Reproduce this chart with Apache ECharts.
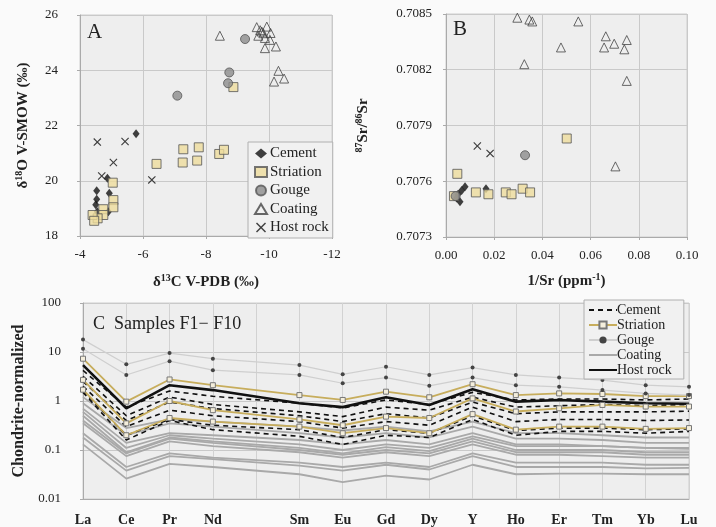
<!DOCTYPE html>
<html>
<head>
<meta charset="utf-8">
<script src="https://cdn.jsdelivr.net/npm/echarts@6/dist/echarts.min.js"></script>
<style>
  html, body { margin: 0; padding: 0; background: #fafafa; }
  #chart { width: 716px; height: 527px; }
</style>
</head>
<body>
<div id="chart"></div>
<script>
// Panel A: d13C (V-PDB) vs d18O (V-SMOW)
const isoCement = [[-5.78, 21.70], [-4.53, 19.64], [-4.53, 19.33], [-4.50, 19.13], [-4.87, 20.09], [-4.93, 19.55], [-4.90, 18.88], [-4.55, 18.88]];
const isoStriation = [[-5.04, 19.93], [-5.06, 19.30], [-5.06, 19.04], [-4.74, 18.97], [-4.74, 18.76], [-4.56, 18.64], [-4.40, 18.76], [-4.45, 18.55],
  [-6.43, 20.61], [-7.28, 21.14], [-7.26, 20.66], [-7.77, 21.21], [-7.72, 20.73], [-8.42, 20.97], [-8.57, 21.12], [-8.87, 23.39]];
const isoGouge = [[-7.09, 23.08], [-8.74, 23.92], [-8.70, 23.53], [-9.24, 25.13]];
const isoCoating = [[-8.44, 25.25], [-9.61, 25.56], [-9.77, 25.40], [-9.93, 25.58], [-9.66, 25.25], [-9.87, 25.17], [-10.05, 25.35], [-10.03, 25.10],
  [-9.87, 24.80], [-10.22, 24.86], [-10.30, 23.98], [-10.16, 23.59], [-10.48, 23.70], [-9.82, 25.34], [-9.72, 25.45]];
const isoHost = [[-3.98, 21.45], [-4.55, 21.40], [-5.43, 21.42], [-5.06, 20.66], [-4.69, 20.17], [-6.28, 20.03]];

// Panel B: 1/Sr vs 87Sr/86Sr
const srCement = [[0.0079, 0.70757], [0.0065, 0.70755], [0.0166, 0.70756], [0.0044, 0.70751], [0.0058, 0.70749], [0.0050, 0.70753]];
const srStriation = [[0.0047, 0.70764], [0.0501, 0.70783], [0.0124, 0.70754], [0.0176, 0.70753], [0.0248, 0.70754], [0.0272, 0.70753],
  [0.0318, 0.70756], [0.0349, 0.70754], [0.0033, 0.70752]];
const srGouge = [[0.0328, 0.70774], [0.0040, 0.70752]];
const srCoating = [[0.0296, 0.70848], [0.0346, 0.70847], [0.0358, 0.70846], [0.0549, 0.70846], [0.0477, 0.70832], [0.0325, 0.70823],
  [0.0663, 0.70838], [0.0656, 0.70832], [0.0698, 0.70834], [0.0750, 0.70836], [0.0740, 0.70831], [0.0750, 0.70814], [0.0703, 0.70768]];
const srHost = [[0.0130, 0.70779], [0.0183, 0.70775]];

// Panel C: chondrite-normalized REE (blank slot = Pm)
const reeLabels = ['La', 'Ce', 'Pr', 'Nd', '', 'Sm', 'Eu', 'Gd', 'Dy', 'Y', 'Ho', 'Er', 'Tm', 'Yb', 'Lu'];
const reeCement = [
  [4.2, 0.75, 1.6, 1.25, null, 0.9, 0.72, 1.05, 0.85, 1.5, 1.05, 1.1, 1.1, 1.05, 1.1],
  [3.2, 0.5, 1.2, 0.85, null, 0.6, 0.48, 0.75, 0.65, 1.2, 0.75, 0.8, 0.85, 0.8, 0.85],
  [2.5, 0.4, 0.95, 0.7, null, 0.5, 0.38, 0.55, 0.45, 0.95, 0.55, 0.6, 0.6, 0.6, 0.62],
  [2.0, 0.3, 0.65, 0.5, null, 0.38, 0.28, 0.38, 0.32, 0.75, 0.38, 0.42, 0.42, 0.4, 0.41],
  [1.6, 0.2, 0.42, 0.32, null, 0.26, 0.18, 0.26, 0.22, 0.5, 0.25, 0.28, 0.28, 0.26, 0.27],
  [1.5, 0.16, 0.4, 0.26, null, 0.19, 0.13, 0.2, 0.18, 0.42, 0.2, 0.24, 0.24, 0.22, 0.24],
];
const reeStriation = [
  [7.3, 0.97, 2.75, 2.1, null, 1.32, 1.05, 1.55, 1.19, 2.2, 1.32, 1.43, 1.39, 1.26, 1.26],
  [2.7, 0.35, 1.0, 0.65, null, 0.42, 0.32, 0.48, 0.45, 1.13, 0.61, 0.71, 0.83, 0.77, 0.77],
  [1.7, 0.2, 0.45, 0.38, null, 0.3, 0.22, 0.28, 0.22, 0.54, 0.26, 0.30, 0.30, 0.27, 0.28],
];
const reeGouge = [
  [17.9, 5.6, 9.5, 7.3, null, 5.4, 3.5, 5.0, 3.4, 4.8, 3.4, 3.0, 2.67, 2.1, 1.95],
  [11.7, 3.4, 6.5, 4.25, null, 3.4, 2.3, 3.0, 2.04, 3.0, 2.1, 1.95, 1.67, 1.43, 1.32],
];
const reeCoating = [
  [1.2, 0.28, 0.42, 0.38, null, 0.3, 0.25, 0.3, 0.24, 0.38, 0.22, 0.22, 0.2, 0.18, 0.18],
  [0.9, 0.2, 0.35, 0.3, null, 0.22, 0.18, 0.22, 0.18, 0.3, 0.17, 0.17, 0.16, 0.14, 0.14],
  [0.7, 0.14, 0.22, 0.2, null, 0.16, 0.13, 0.16, 0.13, 0.22, 0.13, 0.13, 0.12, 0.11, 0.11],
  [0.6, 0.11, 0.2, 0.17, null, 0.13, 0.1, 0.13, 0.11, 0.19, 0.12, 0.12, 0.12, 0.11, 0.105],
  [0.5, 0.09, 0.18, 0.15, null, 0.11, 0.085, 0.115, 0.095, 0.17, 0.1, 0.1, 0.1, 0.09, 0.09],
  [0.4, 0.085, 0.17, 0.14, null, 0.1, 0.08, 0.1, 0.085, 0.15, 0.09, 0.09, 0.09, 0.08, 0.08],
  [0.35, 0.075, 0.15, 0.12, null, 0.09, 0.07, 0.09, 0.075, 0.13, 0.08, 0.08, 0.075, 0.07, 0.07],
  [0.22, 0.045, 0.085, 0.07, null, 0.055, 0.045, 0.055, 0.045, 0.085, 0.055, 0.055, 0.055, 0.05, 0.05],
  [0.18, 0.038, 0.075, 0.065, null, 0.048, 0.038, 0.05, 0.04, 0.075, 0.045, 0.045, 0.045, 0.042, 0.043],
  [0.13, 0.026, 0.052, 0.045, null, 0.032, 0.022, 0.03, 0.025, 0.05, 0.032, 0.033, 0.033, 0.032, 0.032],
];
const reeHost = [5.4, 0.71, 2.1, 1.67, null, 0.9, 0.75, 1.19, 0.83, 1.73, 0.97, 1.05, 0.97, 0.9, 0.88];

const groupNames = ['Cement', 'Striation', 'Gouge', 'Coating', 'Host rock'];

const FONT = '"Liberation Serif", "DejaVu Serif", serif';
const INK = '#222';
const X_MARK = 'path://M1,0 L5,4 L9,0 L10,1 L6,5 L10,9 L9,10 L5,6 L1,10 L0,9 L4,5 L0,1 Z';

const scatterStyles = {
  'Cement': { symbol: 'diamond', symbolSize: [7, 9], itemStyle: { color: '#111' } },
  'Striation': { symbol: 'rect', symbolSize: 9, itemStyle: { color: '#eedc9c', borderColor: '#555', borderWidth: 1 } },
  'Gouge': { symbol: 'circle', symbolSize: 9, itemStyle: { color: '#8c8c8c', borderColor: '#555', borderWidth: 1 } },
  'Coating': { symbol: 'triangle', symbolSize: 9, itemStyle: { color: 'rgba(255,255,255,0)', borderColor: '#444', borderWidth: 1 } },
  'Host rock': { symbol: X_MARK, symbolSize: 8, itemStyle: { color: '#111' } },
};

function scatter(name, data, axisIdx) {
  return Object.assign({
    type: 'scatter', name, data,
    xAxisIndex: axisIdx, yAxisIndex: axisIdx,
  }, scatterStyles[name]);
}

const lineStyles = {
  'Cement': { symbol: 'none', lineStyle: { color: '#111', width: 1.6, type: [5, 4] }, itemStyle: { color: '#111' } },
  'Striation': { symbol: 'rect', symbolSize: 5, lineStyle: { color: '#c7ad5c', width: 1.8 }, itemStyle: { color: '#f4eedc', borderColor: '#777', borderWidth: 1 } },
  'Gouge': { symbol: 'circle', symbolSize: 4, lineStyle: { color: '#cfcfcf', width: 1.2 }, itemStyle: { color: '#444' } },
  'Coating': { symbol: 'none', lineStyle: { color: '#a9a9a9', width: 1.8 }, itemStyle: { color: '#a9a9a9' } },
  'Host rock': { symbol: 'none', lineStyle: { color: '#111', width: 2.6 }, itemStyle: { color: '#111' } },
};

function reeLine(name, data) {
  return Object.assign({
    type: 'line', name: 'C:' + name, data,
    xAxisIndex: 2, yAxisIndex: 2,
    connectNulls: true,
  }, lineStyles[name]);
}

// legend entries for plain lines: hide the marker, keep the line
const noMarker = { color: 'rgba(0,0,0,0)', borderWidth: 0 };
const reeLegendData = groupNames.map(n => {
  const item = { name: 'C:' + n };
  if (lineStyles[n].symbol === 'none') item.itemStyle = noMarker;
  return item;
});

const gridStyle = { show: true, backgroundColor: '#eeeeee', borderColor: '#cfcfcf', borderWidth: 1 };
const splitLine = { show: true, lineStyle: { color: '#c9c9c9', width: 1 } };
const axisLine = { show: true, lineStyle: { color: '#aaaaaa' } };
const axisTick = { show: true, length: 3, lineStyle: { color: '#aaaaaa' } };
const labelStyle = { color: INK, fontFamily: FONT, fontSize: 13 };
const nameStyle = () => ({
  color: INK, fontFamily: FONT, fontSize: 15, fontWeight: 'bold',
  rich: {
    a: { color: INK, fontFamily: FONT, fontSize: 15, fontWeight: 'bold', lineHeight: 18 },
    s: { color: INK, fontFamily: FONT, fontSize: 10, fontWeight: 'bold', verticalAlign: 'top', lineHeight: 10 },
  },
});

const chart = echarts.init(document.getElementById('chart'), null, { renderer: 'canvas' });

const series = [];
const isoSets = [isoCement, isoStriation, isoGouge, isoCoating, isoHost];
const srSets = [srCement, srStriation, srGouge, srCoating, srHost];
groupNames.forEach((n, i) => series.push(scatter(n, isoSets[i], 0)));
groupNames.forEach((n, i) => series.push(scatter(n, srSets[i], 1)));
reeCoating.forEach(d => series.push(reeLine('Coating', d)));
reeCement.forEach(d => series.push(reeLine('Cement', d)));
reeStriation.forEach(d => series.push(reeLine('Striation', d)));
reeGouge.forEach(d => series.push(reeLine('Gouge', d)));
series.push(reeLine('Host rock', reeHost));

chart.setOption({
  animation: false,
  backgroundColor: '#fafafa',
  textStyle: { fontFamily: FONT },
  title: [
    { text: 'A', left: 82, top: 17, textStyle: { fontFamily: FONT, fontSize: 21, fontWeight: 'normal', color: INK } },
    { text: 'B', left: 448, top: 14, textStyle: { fontFamily: FONT, fontSize: 21, fontWeight: 'normal', color: INK } },
    { text: 'C  Samples F1\u2212 F10', left: 88, top: 310, textStyle: { fontFamily: FONT, fontSize: 18, fontWeight: 'normal', color: INK } },
  ],
  legend: [
    {
      data: groupNames,
      orient: 'vertical', left: 248, top: 142,
      padding: [4, 4, 3, 6],
      backgroundColor: '#f1f1f1', borderColor: '#b0b0b0', borderWidth: 1,
      itemWidth: 12, itemHeight: 10, itemGap: 3.5,
      textStyle: { fontFamily: FONT, fontSize: 15, color: INK, padding: [0, 0, 0, -2] },
    },
    {
      data: reeLegendData,
      formatter: name => name.replace(/^C:/, ''),
      orient: 'vertical', left: 584, top: 300,
      padding: [3, 12, 2, 4],
      backgroundColor: '#f1f1f1', borderColor: '#b0b0b0', borderWidth: 1,
      itemWidth: 28, itemHeight: 9, itemGap: 1,
      textStyle: { fontFamily: FONT, fontSize: 14, color: INK, padding: [0, 0, 0, -5] },
    },
  ],
  grid: [
    Object.assign({ left: 80, top: 15, width: 252, height: 221 }, gridStyle),
    Object.assign({ left: 446, top: 14, width: 241, height: 223 }, gridStyle),
    Object.assign({ left: 83, top: 303, width: 606, height: 197 }, gridStyle),
  ],
  xAxis: [
    {
      gridIndex: 0, type: 'value', min: -12, max: -4, interval: 2, inverse: true,
      axisLine, axisTick, splitLine,
      axisLabel: Object.assign({ margin: 12 }, labelStyle),
      name: '{a|\u03b4}{s|13}{a|C V-PDB (\u2030)}', nameLocation: 'middle', nameGap: 37,
      nameTextStyle: nameStyle(),
    },
    {
      gridIndex: 1, type: 'value', min: 0, max: 0.1, interval: 0.02,
      axisLine, axisTick, splitLine,
      axisLabel: Object.assign({ margin: 12, formatter: v => v.toFixed(2) }, labelStyle),
      name: '{a|1/Sr (ppm}{s|-1}{a|)}', nameLocation: 'middle', nameGap: 35,
      nameTextStyle: nameStyle(),
    },
    {
      gridIndex: 2, type: 'category', data: reeLabels, boundaryGap: false,
      axisLine, axisTick: { show: false },
      splitLine: { show: true, interval: 0, lineStyle: { color: '#d2d2d2' } },
      axisLabel: { interval: 0, margin: 14, color: INK, fontFamily: FONT, fontSize: 14, fontWeight: 'bold' },
    },
  ],
  yAxis: [
    {
      gridIndex: 0, type: 'value', min: 18, max: 26, interval: 2,
      axisLine, axisTick, splitLine,
      axisLabel: Object.assign({ margin: 22 }, labelStyle),
      name: '{a|\u03b4}{s|18}{a|O V-SMOW (\u2030)}', nameLocation: 'middle', nameGap: 48,
      nameTextStyle: nameStyle(),
    },
    {
      gridIndex: 1, type: 'value', min: 0.7073, max: 0.7085, interval: 0.0003,
      axisLine, axisTick, splitLine,
      axisLabel: Object.assign({ margin: 14, formatter: v => v.toFixed(4) }, labelStyle),
      name: '{s|87}{a|Sr/}{s|86}{a|Sr}', nameLocation: 'middle', nameGap: 74,
      nameTextStyle: nameStyle(),
    },
    {
      gridIndex: 2, type: 'log', logBase: 10, min: 0.01, max: 100,
      axisLine, axisTick, splitLine,
      axisLabel: Object.assign({ margin: 22, formatter: v => String(+v.toPrecision(3)) }, labelStyle),
      name: 'Chondrite-normalized', nameLocation: 'middle', nameGap: 53,
      nameTextStyle: { color: INK, fontFamily: FONT, fontSize: 16, fontWeight: 'bold' },
    },
  ],
  series,
});
</script>
</body>
</html>
